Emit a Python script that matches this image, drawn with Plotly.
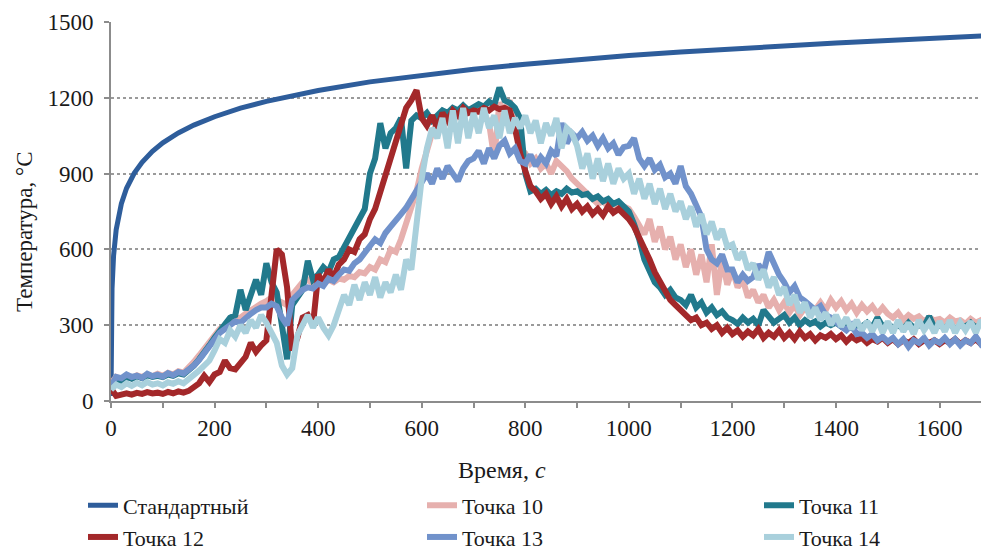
import plotly.graph_objects as go

# ---------------- data ----------------
std_time = [0, 1, 2, 5, 10, 20, 30, 45, 60, 80, 100, 130, 160, 200, 250, 300, 350, 400,
            500, 600, 700, 800, 900, 1000, 1100, 1200, 1300, 1400, 1500, 1600, 1700]
std_temp = [20, 349, 445, 576, 678, 781, 842, 902, 945, 988, 1022, 1061, 1092, 1125, 1159,
            1186, 1209, 1229, 1263, 1290, 1313, 1333, 1351, 1367, 1381, 1394, 1406, 1417,
            1427, 1437, 1446]

time_s = list(range(0, 1701, 10))

p10 = [70, 95, 85, 100, 90, 102, 95, 105, 98, 108,
       100, 112, 105, 118, 112, 130, 155, 180, 205, 235,
       260, 285, 295, 315, 325, 330, 345, 360, 375, 385,
       395, 410, 400, 390, 380, 420, 450, 470, 480, 465,
       470, 460, 480, 470, 485, 480, 495, 490, 510, 505,
       530, 520, 560, 550, 600, 590, 640, 700, 760, 830,
       920, 1000, 1060, 1100, 1080, 1120, 1100, 1140, 1120, 1150,
       1130, 1160, 1140, 1100, 960, 1180, 1150, 1190, 1080, 1000,
       980, 940, 960, 920, 940, 900, 950, 930, 910, 880,
       860, 840, 820, 800, 780, 790, 770, 760, 780, 770,
       760, 730, 700, 660, 720, 630, 690, 600, 650, 560,
       620, 530, 600, 500, 580, 470, 620, 420, 560, 460,
       520, 450, 480, 410, 440, 390, 420, 370, 400, 360,
       390, 350, 380, 340, 370, 345, 360, 390, 360, 400,
       370, 395, 360, 385, 350, 380, 355, 375, 345, 370,
       345, 330, 350, 320, 340, 325, 335, 315, 330, 320,
       325, 310, 330, 315, 320, 305, 325, 310, 320, 305, 315]

p11 = [60, 85, 80, 95, 88, 98, 90, 102, 95, 100,
       95, 105, 100, 110, 105, 120, 140, 165, 190, 220,
       250, 280, 300, 330, 340, 440, 360, 430, 480, 420,
       545, 470, 430, 300, 165, 380, 410, 440, 555, 480,
       500, 530, 510, 560, 570, 610, 640, 680, 720, 760,
       900, 960, 1100, 1000, 1060, 1080, 1120, 920, 1110, 1130,
       1120, 1140, 1110, 1130, 1150, 1140, 1160, 1150, 1170, 1150,
       1160, 1175, 1165, 1185, 1170, 1240, 1190, 1180, 1160, 1120,
       900, 830, 840, 820, 835, 815, 830, 820, 840, 825,
       830, 815, 820, 800, 810, 790, 800, 780, 790, 770,
       750, 700, 640, 560, 510, 470, 450, 420, 440, 410,
       400, 380, 420, 370, 390, 350, 370, 340, 355, 330,
       320, 305, 330, 310, 325, 300, 360, 330, 310, 325,
       340, 310, 330, 300, 320, 305, 315, 295, 310, 300,
       310, 295, 305, 290, 300, 295, 310, 290, 330, 295,
       305, 290, 300, 285, 310, 290, 300, 295, 335, 290,
       300, 290, 305, 285, 300, 295, 310, 290, 305, 295, 300]

p12 = [50, 20, 25, 30, 25, 32, 28, 35, 30, 33,
       28, 36, 30, 38, 33, 40, 55, 70, 100, 75,
       105, 115, 160, 130, 125, 150, 175, 230, 195, 220,
       240, 420, 600, 580, 450, 200, 250, 330, 340, 300,
       500, 470, 520, 490, 540, 560, 600, 590, 640, 660,
       720, 760, 830, 880, 950, 1020, 1100, 1160, 1190, 1230,
       1120, 1090, 1130, 1080, 1140, 1110, 1150, 1130, 1160, 1140,
       1150, 1145, 1160, 1150, 1165, 1155, 1160, 1150, 1080, 980,
       910, 850, 830, 800, 820, 780, 810, 770, 800, 760,
       780, 750, 770, 740, 760, 735, 770, 745, 760, 740,
       720, 690, 650, 600, 560, 510, 470, 430, 400, 380,
       360, 340, 320, 330, 300, 310, 285, 300, 270, 290,
       265, 280, 255, 275, 260, 285, 250, 270, 255, 280,
       250, 270, 245, 275, 250, 265, 240, 260, 250, 265,
       245, 260, 235, 255, 240, 250, 230, 245, 235, 250,
       230, 245, 225, 240, 230, 245, 225, 240, 230, 240,
       225, 240, 230, 245, 225, 240, 230, 245, 225, 240, 230]

p13 = [60, 95, 90, 105, 95, 100, 92, 108, 98, 104,
       96, 110, 102, 115, 108, 122, 140, 162, 188, 215,
       245, 270, 285, 300, 315, 310, 330, 345, 360, 370,
       370, 385, 375, 330, 300, 400, 420, 440, 450, 445,
       465, 455, 485, 475, 500, 520, 515, 545, 560, 585,
       610, 640, 625, 665, 690, 720, 740, 765, 800, 840,
       870, 900, 860, 920, 880, 930, 900, 870, 920, 950,
       960, 990, 940, 1000, 960, 1010, 1030, 980, 1000, 950,
       940, 975, 930, 965, 940, 990, 970, 1100, 1020, 1060,
       1040, 1065, 1030, 1050, 1010, 1040, 1000, 1020, 975, 1005,
       1010, 1040, 960, 930, 960, 915, 935, 885, 900, 860,
       930, 850, 820, 770, 730, 600, 560, 545, 580, 520,
       520, 470, 500, 475, 490, 540, 510, 590, 540, 500,
       470, 430, 455, 410, 395, 380, 360, 375, 340, 330,
       310, 295, 280, 300, 265, 270, 250, 265, 240, 255,
       235, 250, 225, 245, 215, 240, 230, 250, 220, 240,
       230, 250, 225, 245, 220, 240, 230, 255, 225, 240, 230]

p14 = [45, 65, 55, 70, 60, 72, 62, 75, 65, 70,
       62, 74, 68, 78, 70, 85, 100, 120, 140, 160,
       200, 245, 230, 280, 255, 300, 270, 320, 290, 340,
       310, 270, 230, 140, 105, 130, 260, 300, 340, 290,
       330, 290, 260, 300, 360, 420, 380, 460, 400, 470,
       420, 490, 410, 470, 430, 500, 440, 560, 520, 700,
       880, 1000, 1080, 1040, 1120, 1000, 1150, 1020, 1160, 1040,
       1140, 1060, 1160, 1080, 1130, 1040, 1150, 1060, 1120, 1080,
       1130, 1060, 1110, 1020, 1100, 1050, 1120, 1000, 1080, 1060,
       1010, 920, 980, 880, 960, 870, 940, 860, 920, 880,
       900, 820, 880, 800, 860, 780, 840, 760, 820, 750,
       790, 720, 770, 690, 740, 660, 710, 640, 680, 610,
       620, 560, 590, 520, 545, 480, 520, 450, 490, 420,
       450, 380, 420, 350, 390, 330, 370, 320, 350, 300,
       340, 295, 330, 285, 320, 280, 315, 275, 320, 270,
       315, 270, 320, 275, 310, 265, 320, 280, 310, 270,
       315, 275, 320, 270, 310, 280, 315, 270, 320, 275, 310]

series_names = ["Точка 10", "Точка 11", "Точка 12", "Точка 13", "Точка 14"]
series_values = [p10, p11, p12, p13, p14]
series_colors = ["#E6B0AE", "#21798C", "#A3282A", "#7192CB", "#A9D0DC"]
# legend column of each series (matches the reference's three-column legend)
series_legend = ["legend2", "legend3", "legend", "legend2", "legend3"]

x_ticks = [0, 200, 400, 600, 800, 1000, 1200, 1400, 1600]
y_ticks = [0, 300, 600, 900, 1200, 1500]

# ---------------- figure ----------------
FONT = "Liberation Serif"
fig = go.Figure()
fig.add_trace(go.Scatter(x=std_time, y=std_temp, mode="lines", name="Стандартный",
                         legend="legend", line=dict(color="#2E5D9B", width=5)))
for name, vals, col, lg in zip(series_names, series_values, series_colors, series_legend):
    fig.add_trace(go.Scatter(x=time_s, y=vals, mode="lines", name=name, legend=lg,
                             line=dict(color=col, width=6)))

leg_common = dict(orientation="v", xref="container", yref="container",
                  y=0.119, xanchor="left", yanchor="top",
                  bgcolor="rgba(0,0,0,0)", font=dict(size=22, family=FONT, color="#1a1a1a"),
                  tracegroupgap=0, traceorder="normal")

fig.update_layout(
    width=981, height=550,
    margin=dict(l=111, r=0, t=22, b=149, autoexpand=False),
    paper_bgcolor="white", plot_bgcolor="white",
    font=dict(family=FONT, size=23, color="#1a1a1a"),
    showlegend=True,
    legend=dict(x=83 / 981, **leg_common),
    legend2=dict(x=422 / 981, **leg_common),
    legend3=dict(x=759 / 981, **leg_common),
    xaxis=dict(range=[0, 1680], tickvals=x_ticks, showgrid=False, zeroline=False,
               showline=True, linecolor="#8c8c8c", linewidth=2,
               ticks="outside", ticklen=5, tickcolor="#8c8c8c", tickwidth=1.5,
               minor=dict(dtick=100, ticks="outside", ticklen=5, tickcolor="#8c8c8c", tickwidth=1.5),
               tickfont=dict(size=23, family=FONT)),
    yaxis=dict(range=[0, 1500], tickvals=y_ticks, showgrid=True, gridcolor="#9a9a9a",
               griddash="dot", gridwidth=1.5, zeroline=False,
               showline=True, linecolor="#8c8c8c", linewidth=2,
               ticks="outside", ticklen=5, tickcolor="#8c8c8c", tickwidth=1.5,
               ticklabelstandoff=6,
               tickfont=dict(size=23, family=FONT)),
    annotations=[
        dict(text="Время, <i>с</i>", xref="paper", yref="paper", x=(502 - 111) / 870,
             y=(401 - 470) / 379, xanchor="center", yanchor="middle", showarrow=False,
             font=dict(size=24, family=FONT)),
        dict(text="Температура, °С", xref="paper", yref="paper", x=(24 - 111) / 870,
             y=(401 - 232) / 379, xanchor="center", yanchor="middle", textangle=-90,
             showarrow=False, font=dict(size=23, family=FONT)),
    ],
)

fig.write_html("out.html")
